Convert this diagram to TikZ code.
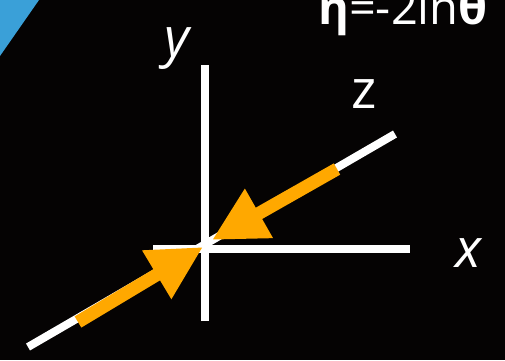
\documentclass[tikz,border=0pt]{standalone}
\usepackage{fontspec}
\setmainfont{Open Sans}
\usetikzlibrary{arrows.meta,positioning}
\definecolor{beamorange}{RGB}{255,168,0}
\definecolor{wedgeblue}{RGB}{58,160,216}
\definecolor{bgblack}{RGB}{5,3,3}

\begin{document}
\begin{tikzpicture}[x=1pt,y=-1pt,
    axis/.style={white,line width=8pt},
    beam/.style={beamorange,line width=13pt,-{Triangle[length=54pt,width=53pt]}},
    lbl/.style={white,anchor=base,inner sep=0pt,font=\fontsize{54}{58}\selectfont}]
      \useasboundingbox (0,0) rectangle (505,360);
      \fill[bgblack] (0,0) rectangle (505,360);
      \fill[wedgeblue] (0,0) -- (39,0) -- (0,56) -- cycle;
      % axes
      \coordinate (o) at (205,248);
      \coordinate (ytop) at (205,65);
      \coordinate (ybot) at (205,321);
      \coordinate (xleft) at (153,249);
      \coordinate (xright) at (410,249);
      \coordinate (zlow) at (28,347);
      \coordinate (zhigh) at (395,134);
      \draw[axis] (ybot) -- (ytop);
      \draw[axis] (xleft) -- (xright);
      \draw[axis] (zlow) -- (zhigh);
      % beams
      \coordinate (blow) at (78,322);
      \coordinate (tiplow) at (203,247);
      \coordinate (bhigh) at (337,169);
      \coordinate (tiphigh) at (212,240);
      \draw[beam] (blow) -- (tiplow);
      \draw[beam] (bhigh) -- (tiphigh);
      % labels
      \node[lbl] (ylbl) at (177,56) {\itshape y};
      \node[lbl] (zlbl) at (364,108) {z};
      \node[lbl] (xlbl) at (468,267) {\itshape x};
      \node[white,anchor=base west,inner sep=0pt,font=\fontsize{47}{50}\selectfont] (eta) at (318,24)
        {\textbf{η}=-2ln\textbf{θ}};
    \end{tikzpicture}
\end{document}
